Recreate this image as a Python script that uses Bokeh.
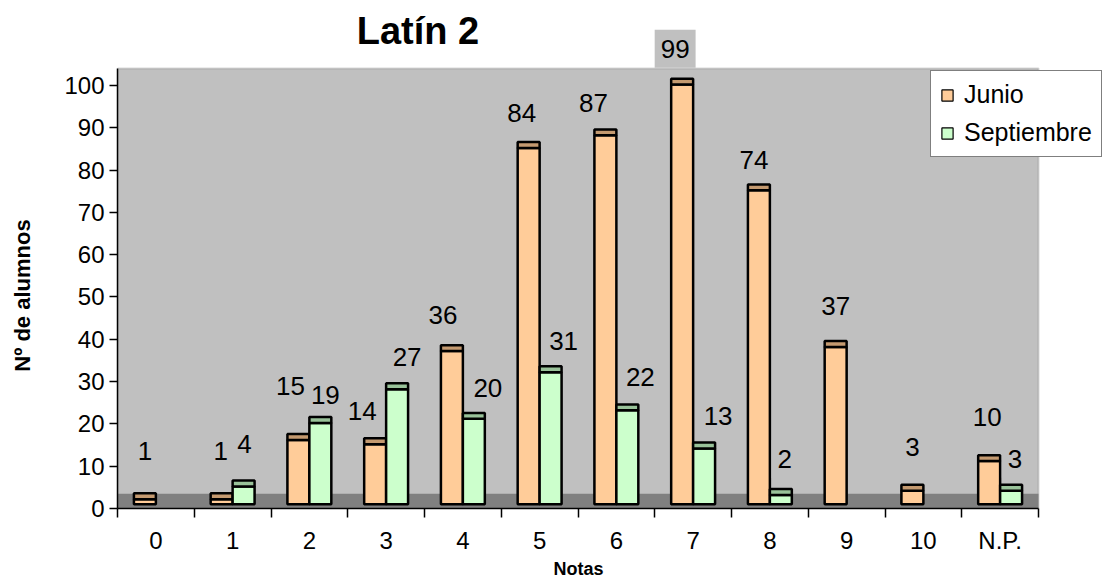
from math import pi
from bokeh.plotting import figure
from bokeh.layouts import row
from bokeh.models import Range1d, FixedTicker, Legend, LegendItem, Label, BoxAnnotation, Title
from bokeh.core.properties import value
from bokeh.embed import file_html
from bokeh.resources import INLINE

# ---- data ----
categories = ["0", "1", "2", "3", "4", "5", "6", "7", "8", "9", "10", "N.P."]
junio = [1, 1, 15, 14, 36, 84, 87, 99, 74, 37, 3, 10]
septiembre = [None, 4, 19, 27, 20, 31, 22, 13, 2, None, None, 3]
y_ticks = [0, 10, 20, 30, 40, 50, 60, 70, 80, 90, 100]
title_text = "Latín 2"
x_title = "Notas"
y_title = "Nº de alumnos"

# ---- style / layout ----
FONT = "Liberation Sans"
ORANGE, ORANGE_TOP = "#ffcc99", "#c49a70"
GREEN, GREEN_TOP = "#ccffcc", "#99c299"
BASE = 1.0      # 3D floor offset
LIFT = 1.2      # body top offset
CAP = 1.4       # top face depth
FLOOR = 3.5     # floor band height
PLOT_TOP = 104  # top of the grey plot area (value units)
BAR_W = 0.286
SHIFT = 0.143

# data-label nudges in screen px (dx, dy above the bar top), as placed by the original
JUNIO_LABEL_DX = [0, -1, -8, -13, -9, -7, -12, -7, -5, 0, 0, -2]
JUNIO_LABEL_DY = [42, 42, 48, 27, 30, 29, 26, 30, 24, 35, 38, 38]
SEPT_LABEL_DX = [0, 1, 5, 10, 14, 13, 13, 14, 4, 0, 0, 4]
SEPT_LABEL_DY = [0, 37, 22, 26, 25, 25, 27, 26, 30, 0, 0, 26]

W, H = 1106, 579
SIDE_W = 44              # narrow strip holding the y-axis title
LEFT, BOTTOM = 117, 71
CAT_PX = 76.75           # px per category
UNIT_PX = 4.2308         # px per value unit
FW, FH = W - LEFT, H - BOTTOM
NCAT = len(categories)

# ---- strip with the vertical axis title ----
side = figure(frame_width=SIDE_W, frame_height=H, min_border=0,
              x_range=Range1d(0, SIDE_W), y_range=Range1d(0, H),
              x_axis_location=None, y_axis_location=None,
              output_backend="svg", toolbar_location=None, title=None,
              background_fill_color="white", border_fill_color="white",
              outline_line_color=None)
side.grid.visible = False
side.text(x=[SIDE_W / 2], y=[H - 295], text=[y_title], angle=pi / 2,
          text_align="center", text_baseline="middle",
          text_font=value(FONT), text_font_size="22px", text_font_style="bold",
          text_color="black")

# ---- main chart ----
p = figure(frame_width=FW, frame_height=FH,
           min_border_left=LEFT - SIDE_W, min_border_right=0,
           min_border_top=0, min_border_bottom=BOTTOM,
           x_range=Range1d(0, FW / CAT_PX), y_range=Range1d(0, FH / UNIT_PX),
           output_backend="svg", toolbar_location=None, title=None,
           background_fill_color="white", border_fill_color="white",
           outline_line_color=None)
p.grid.visible = False

# grey plot area and dark floor
p.add_layout(BoxAnnotation(left=0, right=NCAT, bottom=0, top=PLOT_TOP,
                           fill_color="#c0c0c0", fill_alpha=1,
                           line_color="#808080", line_width=2, level="underlay"))
p.add_layout(BoxAnnotation(left=0, right=NCAT, bottom=0, top=FLOOR,
                           fill_color="#808080", fill_alpha=1,
                           line_alpha=0, level="underlay"))

def draw_series(values, dx, body, top, ldx, ldy):
    xs, b, t, cb, ct = [], [], [], [], []
    for i, v in enumerate(values):
        if v is None:
            continue
        xs.append(i + 0.5 + dx)
        b.append(BASE)
        t.append(v + LIFT)
        cb.append(v + LIFT)
        ct.append(v + LIFT + CAP)
    # thin-outlined copy underneath, used for the legend swatch
    leg = p.vbar(x=xs, bottom=b, top=t, width=BAR_W, fill_color=body,
                 line_color="black", line_width=1.2)
    p.vbar(x=xs, bottom=b, top=t, width=BAR_W, fill_color=body,
           line_color="black", line_width=2.5)
    p.vbar(x=xs, bottom=cb, top=ct, width=BAR_W, fill_color=top,
           line_color="black", line_width=2.5)
    for i, v in enumerate(values):
        if v is None:
            continue
        p.add_layout(Label(x=i + 0.5 + dx, y=v + LIFT + CAP, text=str(v),
                           x_offset=ldx[i], y_offset=ldy[i],
                           text_align="center", text_baseline="middle",
                           text_font=FONT, text_font_size="26px", text_color="black",
                           background_fill_color="#c0c0c0",
                           padding=dict(left=6, right=6, top=10, bottom=10)))
    return leg

rj = draw_series(junio, -SHIFT, ORANGE, ORANGE_TOP, JUNIO_LABEL_DX, JUNIO_LABEL_DY)
rs = draw_series(septiembre, SHIFT, GREEN, GREEN_TOP, SEPT_LABEL_DX, SEPT_LABEL_DY)

legend = Legend(items=[LegendItem(label="Junio", renderers=[rj]),
                       LegendItem(label="Septiembre", renderers=[rs])],
                location=(813, 351), orientation="vertical",
                glyph_width=14, glyph_height=14, label_standoff=10,
                label_text_font=FONT, label_text_font_size="25px",
                label_text_color="black", padding=9, spacing=9, margin=0,
                border_line_color="black", border_line_width=1,
                background_fill_color="white", background_fill_alpha=1)
p.add_layout(legend)

# chart title (inside the frame area above the plot)
p.add_layout(Label(x=(417.5 - LEFT) / CAT_PX, y=(FH - 30) / UNIT_PX,
                   text=title_text, text_align="center", text_baseline="middle",
                   text_font=FONT, text_font_size="38px", text_font_style="bold",
                   text_color="black"))

# axes
xa = p.xaxis[0]
xa.bounds = (0, NCAT)
xa.ticker = FixedTicker(ticks=[i + 0.5 for i in range(NCAT)],
                        minor_ticks=list(range(NCAT + 1)))
xa.major_label_overrides = {i + 0.5: c for i, c in enumerate(categories)}
xa.major_tick_out = 0
xa.major_tick_in = 0
xa.minor_tick_out = 9
xa.minor_tick_in = 0
xa.minor_tick_line_color = "black"
xa.minor_tick_line_width = 1.5
xa.axis_line_color = "black"
xa.axis_line_width = 1.5
xa.major_label_text_font = FONT
xa.major_label_text_font_size = "24px"
xa.major_label_text_color = "black"
xa.major_label_standoff = 9

# x-axis title centred under the grey plot area
p.add_layout(Title(text=x_title, align="left", offset=436, standoff=0,
                   vertical_align="bottom",
                   text_font=FONT, text_font_size="18px", text_font_style="bold",
                   text_color="black"), "below")

ya = p.yaxis[0]
ya.bounds = (0, PLOT_TOP)
ya.ticker = FixedTicker(ticks=y_ticks)
ya.major_tick_out = 8
ya.major_tick_in = 0
ya.minor_tick_out = 0
ya.minor_tick_in = 0
ya.major_tick_line_color = "black"
ya.major_tick_line_width = 1.5
ya.axis_line_color = "black"
ya.axis_line_width = 1.5
ya.major_label_text_font = FONT
ya.major_label_text_font_size = "24px"
ya.major_label_text_color = "black"
ya.major_label_standoff = 5

layout = row(side, p)
open("out.html", "w").write(file_html(layout, INLINE))
